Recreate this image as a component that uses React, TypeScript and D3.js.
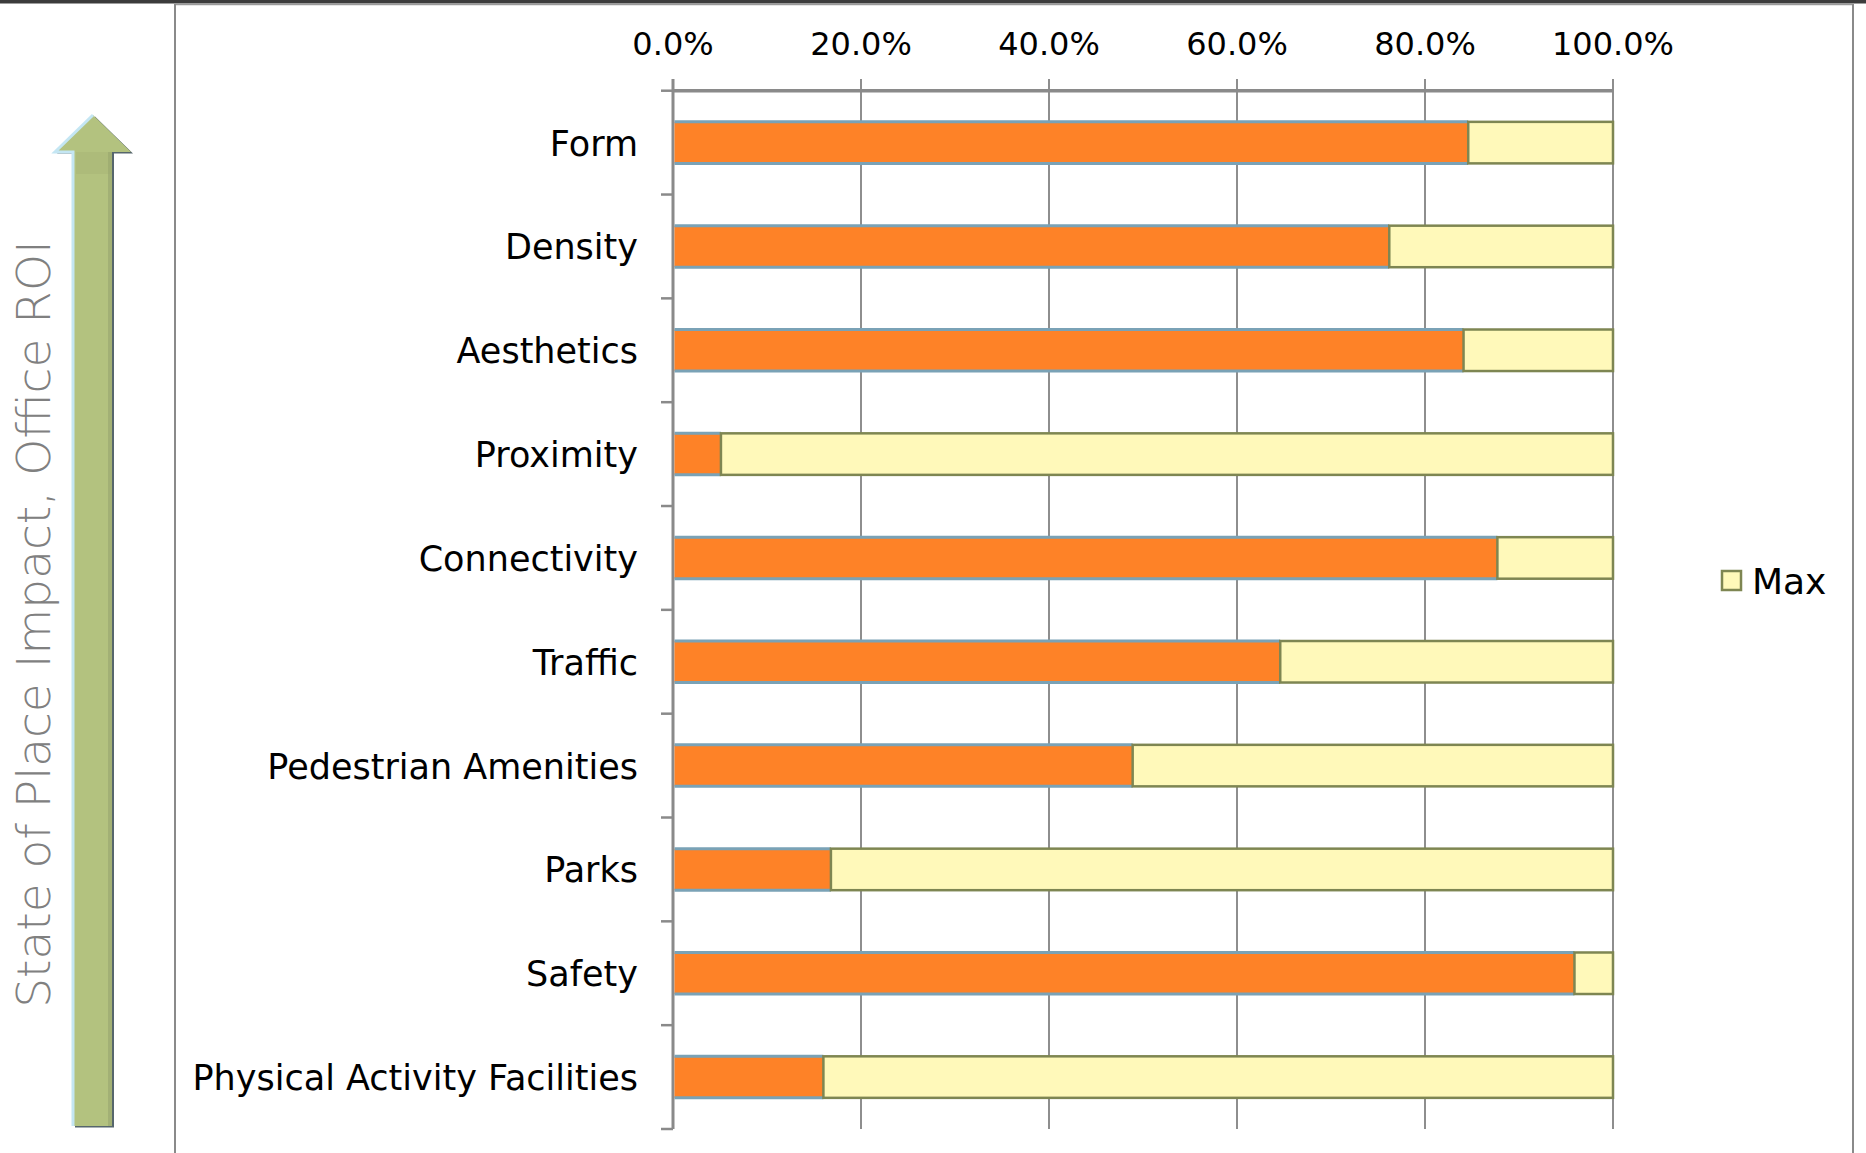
import React from "react";
import * as d3 from "d3";

const categories = [
  "Form",
  "Density",
  "Aesthetics",
  "Proximity",
  "Connectivity",
  "Traffic",
  "Pedestrian Amenities",
  "Parks",
  "Safety",
  "Physical Activity Facilities",
];
const scores = [0.846, 0.762, 0.841, 0.051, 0.877, 0.646, 0.489, 0.168, 0.959, 0.160];
const maxValues = scores.map((v) => 1 - v);
const xTicks = [0, 0.2, 0.4, 0.6, 0.8, 1.0];
const legendLabel = "Max";
const sideTitle = "State of Place Impact, Office ROI";

const W = 1866;
const H = 1153;
const FONT = "'DejaVu Sans', sans-serif";

export default function App() {
  const x = d3.scaleLinear().domain([0, 1]).range([673, 1613]);
  const y = d3
    .scaleBand<string>()
    .domain(categories)
    .range([90.7, 1129])
    .paddingInner(0.6)
    .paddingOuter(0.3);
  const step = y.step();
  const top = 90.7;
  const bottom = 1129;
  const fmt = d3.format(".1%");

  const arrowPath =
    "M93,115 L131,152 L112,152 L112,1126 L73,1126 L73,152 L55,152 Z";

  return (
    <svg
      width={W}
      height={H}
      style={{ position: "fixed", left: 0, top: 0, background: "#fff" }}
    >
      <rect x={0} y={0} width={W} height={H} fill="#fff" />
      {/* frame */}
      <rect x={0} y={0} width={W} height={3.5} fill="#3c3c3c" />
      <line x1={175} x2={1853} y1={4.5} y2={4.5} stroke="#9a9a9a" strokeWidth={1.5} />
      <line x1={175} x2={175} y1={4} y2={H} stroke="#8a8a8a" strokeWidth={2} />
      <line x1={1853} x2={1853} y1={4} y2={H} stroke="#8a8a8a" strokeWidth={2} />

      {/* arrow */}
      <g>
        <path d={arrowPath} fill="#56666c" transform="translate(2,1.5)" />
        <path d={arrowPath} fill="#b3c27f" />
        <path
          d="M73,1126 L73,152 L55,152 L93,115"
          fill="none"
          stroke="#c4e6f3"
          strokeWidth={3}
        />
        <rect x={108} y={152} width={4} height={974} fill="#8e9c6a" opacity={0.45} />
        <rect x={76} y={152} width={36} height={22} fill="#9aa86c" opacity={0.25} />
      </g>

      {/* side title */}
      <text
        transform={`translate(50,${(238 + 1010) / 2}) rotate(-90)`}
        textAnchor="middle"
        fontFamily={FONT}
        fontWeight={300}
        fontSize={47}
        fill="#808080"
      >
        {sideTitle}
      </text>

      {/* gridlines */}
      {xTicks.map((t) => (
        <line
          key={"g" + t}
          x1={x(t)}
          x2={x(t)}
          y1={79}
          y2={bottom}
          stroke="#8e8e8e"
          strokeWidth={2}
        />
      ))}
      {/* top axis line */}
      <line x1={x(0)} x2={x(1)} y1={top} y2={top} stroke="#8a8a8a" strokeWidth={3.5} />
      {/* category axis */}
      <line x1={x(0)} x2={x(0)} y1={79} y2={bottom} stroke="#8a8a8a" strokeWidth={3} />
      {d3.range(categories.length + 1).map((i) => (
        <line
          key={"ct" + i}
          x1={661}
          x2={x(0)}
          y1={top + i * step}
          y2={top + i * step}
          stroke="#8a8a8a"
          strokeWidth={2.5}
        />
      ))}

      {/* tick labels */}
      {xTicks.map((t) => (
        <text
          key={"tl" + t}
          x={x(t)}
          y={55}
          textAnchor="middle"
          fontFamily={FONT}
          fontSize={32}
          fill="#000"
        >
          {fmt(t)}
        </text>
      ))}

      {/* bars */}
      {categories.map((c, i) => {
        const by = y(c)!;
        const bh = y.bandwidth();
        return (
          <g key={c}>
            <rect
              x={x(0) + 1.5}
              y={by}
              width={x(scores[i]) - x(0) - 1.5}
              height={bh}
              fill="#fe8227"
            />
            <line
              x1={x(0) + 1.5}
              x2={x(scores[i])}
              y1={by}
              y2={by}
              stroke="#7aa2b6"
              strokeWidth={3}
            />
            <line
              x1={x(0) + 1.5}
              x2={x(scores[i])}
              y1={by + bh}
              y2={by + bh}
              stroke="#7aa2b6"
              strokeWidth={3}
            />
            <rect
              x={x(scores[i])}
              y={by}
              width={x(scores[i] + maxValues[i]) - x(scores[i])}
              height={bh}
              fill="#fff9ba"
              stroke="#7e8652"
              strokeWidth={2.5}
            />
            <text
              x={638}
              y={by + bh / 2}
              dy="0.37em"
              textAnchor="end"
              fontFamily={FONT}
              fontSize={35}
              fill="#000"
            >
              {c}
            </text>
          </g>
        );
      })}

      {/* legend */}
      <rect x={1722} y={571} width={19} height={19} fill="#fff9ba" stroke="#7e8652" strokeWidth={2.5} />
      <text x={1752} y={594} fontFamily={FONT} fontSize={36} fill="#000">
        {legendLabel}
      </text>
    </svg>
  );
}
